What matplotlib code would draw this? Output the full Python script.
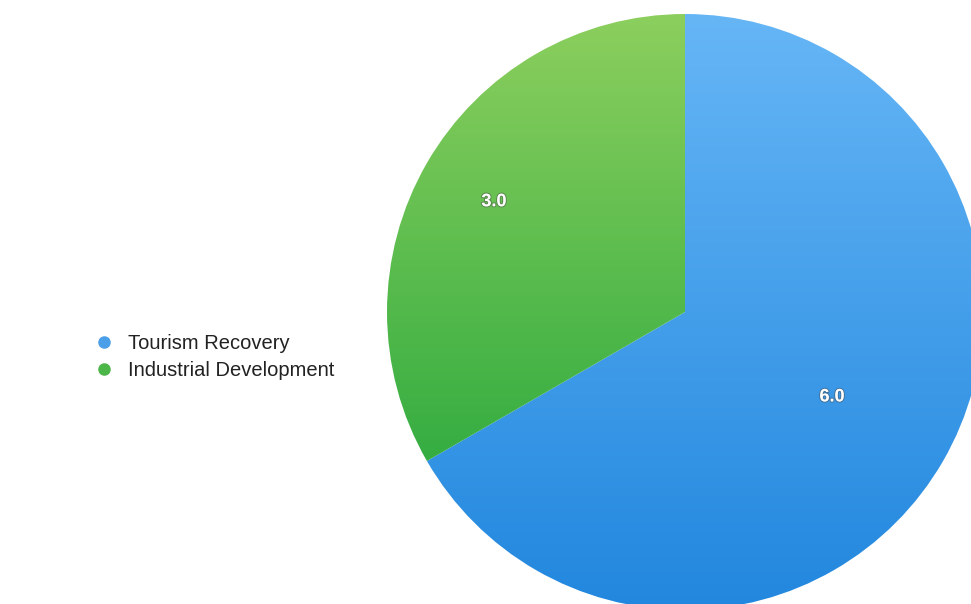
import numpy as np
import matplotlib.pyplot as plt
import matplotlib.patheffects as pe
from matplotlib.colors import to_rgb
from matplotlib.lines import Line2D

# Pie data
categories = ['Tourism Recovery', 'Industrial Development']
values = [6.0, 3.0]
# (top colour, bottom colour) of the vertical gradient in each slice
gradients = [('#66b6f6', '#2287de'), ('#8ccf5e', '#18a238')]
legend_colors = ['#4a9fe8', '#4cb649']
label_radius = [0.57, 0.74]

W, H = 971, 604
fig = plt.figure(figsize=(W / 100, H / 100), dpi=100)
ax = fig.add_axes([0, 0, 1, 1])

center = (685, 292)
radius = 298

wedges, _ = ax.pie(values, startangle=90, counterclock=False,
                   center=center, radius=radius, frame=True,
                   wedgeprops=dict(linewidth=0))

# fill each wedge with a vertical gradient clipped to its shape
for w, (c_top, c_bot) in zip(wedges, gradients):
    w.set_facecolor('none')
    top = np.array(to_rgb(c_top))
    bot = np.array(to_rgb(c_bot))
    t = np.linspace(0, 1, 256)[:, None]
    grad = (top * (1 - t) + bot * t)[:, None, :]
    img = ax.imshow(grad, extent=[center[0] - radius, center[0] + radius,
                                  center[1] - radius, center[1] + radius],
                    origin='upper', aspect='auto', zorder=1)
    img.set_clip_path(w)

ax.set_xlim(0, W)
ax.set_ylim(0, H)
ax.set_aspect('equal')
ax.axis('off')

# value labels inside the slices
for w, v, r in zip(wedges, values, label_radius):
    ang = np.deg2rad((w.theta1 + w.theta2) / 2)
    x = center[0] + r * radius * np.cos(ang)
    y = center[1] + r * radius * np.sin(ang)
    ax.text(x, y, f'{v:.1f}', color='white', fontsize=13, fontweight='bold',
            family='Liberation Sans', ha='center', va='center', zorder=3,
            path_effects=[pe.withStroke(linewidth=1.5, foreground='#44444470')])

handles = [Line2D([], [], marker='o', linestyle='none', markersize=8,
                  markerfacecolor=c, markeredgecolor=c) for c in legend_colors]
fig.legend(handles, categories, loc='center left',
           bbox_to_anchor=(76 / W, 1 - 357 / H),
           frameon=False, prop={'family': 'Liberation Sans', 'size': 14.5},
           labelcolor='#222222', handletextpad=0.7, labelspacing=0.4,
           handlelength=1.0)

fig.savefig('out.png', dpi=100, facecolor='white')
